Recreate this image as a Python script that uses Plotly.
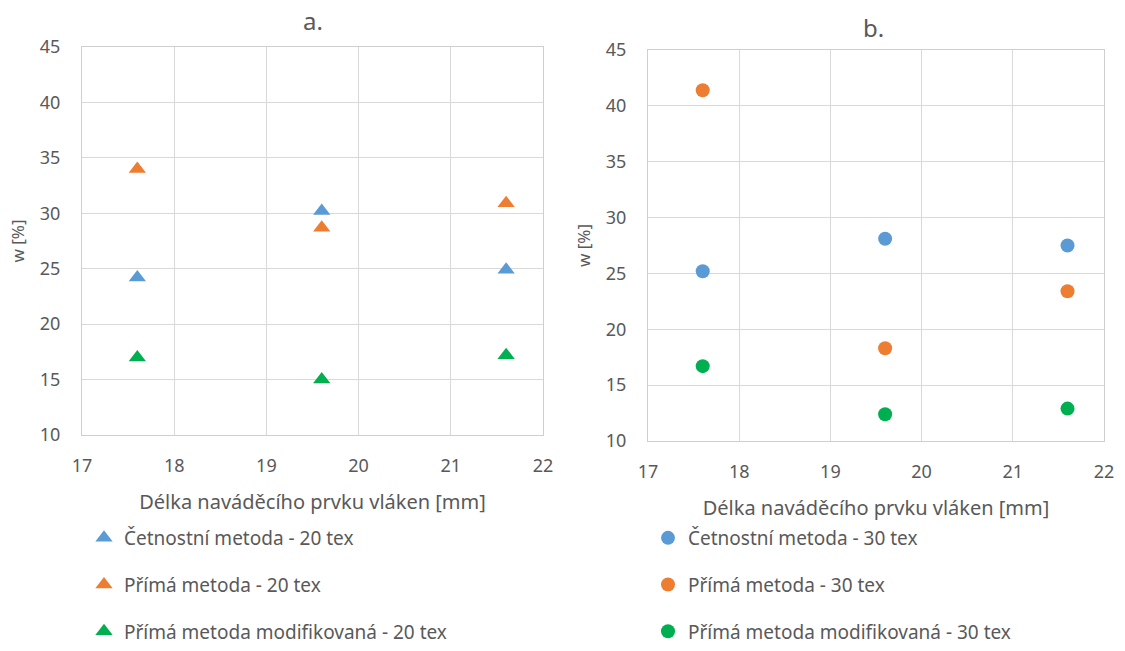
import plotly.graph_objects as go

x_vals = [17.6, 19.6, 21.6]

a_cetnostni = [24.2, 30.2, 24.9]
a_prima = [34.0, 28.7, 30.9]
a_prima_mod = [17.0, 15.0, 17.2]

b_cetnostni = [25.2, 28.1, 27.5]
b_prima = [41.4, 18.3, 23.4]
b_prima_mod = [16.7, 12.4, 12.9]

names_a = ["Četnostní metoda - 20 tex", "Přímá metoda - 20 tex", "Přímá metoda modifikovaná - 20 tex"]
names_b = ["Četnostní metoda - 30 tex", "Přímá metoda - 30 tex", "Přímá metoda modifikovaná - 30 tex"]
colors = ["#5B9BD5", "#ED7D31", "#00B050"]

x_title = "Délka naváděcího prvku vláken [mm]"
y_title = "w [%]"

FONT = "Noto Sans"
GRAY = "#595959"

fig = go.Figure()

for i, ys in enumerate([a_cetnostni, a_prima, a_prima_mod]):
    fig.add_trace(go.Scatter(x=x_vals, y=ys, mode="markers", name=names_a[i],
                             marker=dict(symbol="triangle-up", size=15, color=colors[i]),
                             xaxis="x", yaxis="y", legend="legend", legendgroup="a%d" % i))
for i, ys in enumerate([b_cetnostni, b_prima, b_prima_mod]):
    fig.add_trace(go.Scatter(x=x_vals, y=ys, mode="markers", name=names_b[i],
                             marker=dict(symbol="circle", size=14, color=colors[i]),
                             xaxis="x2", yaxis="y2", legend="legend2", legendgroup="b%d" % i))

axis_common = dict(
    showgrid=True, gridcolor="#d9d9d9", gridwidth=1,
    showline=True, linecolor="#cfcfcf", linewidth=1, mirror=True,
    zeroline=False, ticks="", automargin=False,
    tickfont=dict(family=FONT, size=18, color=GRAY),
    fixedrange=True,
)
xt = dict(text=x_title, font=dict(size=20, color=GRAY), standoff=19)
yt = dict(text=y_title, font=dict(size=17, color=GRAY), standoff=10)

fig.update_layout(
    width=1125, height=651,
    margin=dict(l=0, r=0, t=0, b=0, autoexpand=False),
    paper_bgcolor="white", plot_bgcolor="white",
    font=dict(family=FONT, color=GRAY),
    xaxis=dict(domain=[82/1125, 543/1125], range=[17, 22], dtick=1, anchor="y",
               ticklabelstandoff=14, title=xt, **axis_common),
    yaxis=dict(domain=[1-435/651, 1-47/651], range=[10, 45], dtick=5, anchor="x",
               ticklabelstandoff=17, title=yt, **axis_common),
    xaxis2=dict(domain=[648/1125, 1104/1125], range=[17, 22], dtick=1, anchor="y2",
                ticklabelstandoff=14, title=xt, **axis_common),
    yaxis2=dict(domain=[1-441/651, 1-50/651], range=[10, 45], dtick=5, anchor="x2",
                ticklabelstandoff=17, title=yt, **axis_common),
    legend=dict(x=84/1125, y=0, xanchor="left", yanchor="bottom",
                font=dict(family=FONT, size=19, color=GRAY),
                tracegroupgap=19, itemwidth=30, bgcolor="rgba(0,0,0,0)"),
    legend2=dict(x=648/1125, y=0, xanchor="left", yanchor="bottom",
                 font=dict(family=FONT, size=19, color=GRAY),
                 tracegroupgap=19, itemwidth=30, bgcolor="rgba(0,0,0,0)"),
    showlegend=True,
    annotations=[
        dict(text="a.", x=313/1125, y=1-20/651, xref="paper", yref="paper", showarrow=False,
             font=dict(family=FONT, size=24, color=GRAY), xanchor="center", yanchor="middle"),
        dict(text="b.", x=873/1125, y=1-27/651, xref="paper", yref="paper", showarrow=False,
             font=dict(family=FONT, size=24, color=GRAY), xanchor="center", yanchor="middle"),
    ],
)

fig.write_html("out.html", config={"displayModeBar": False},
               post_script="document.body.style.margin='0';document.body.style.overflow='hidden';")
